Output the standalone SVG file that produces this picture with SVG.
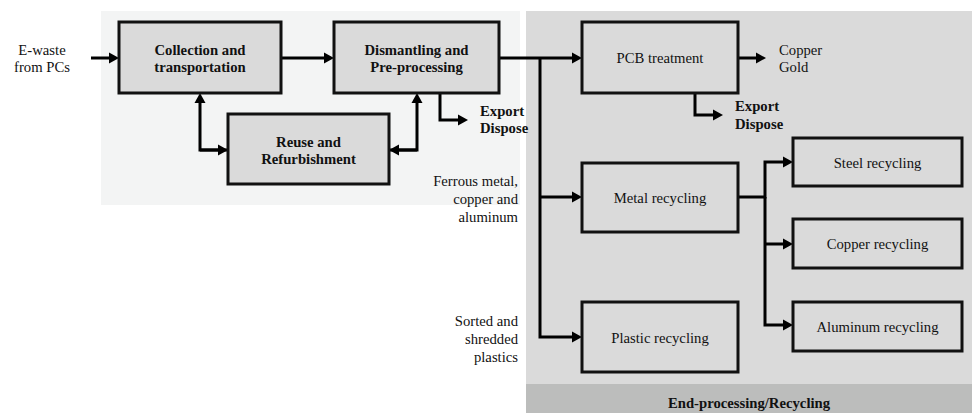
<svg xmlns="http://www.w3.org/2000/svg" width="972" height="413" viewBox="0 0 972 413">
  <style>
    text { font-family: "Liberation Serif", "Times New Roman", serif; font-size: 14.7px; fill: #111; }
    .b { font-weight: bold; }
    .c { text-anchor: middle; }
    .r { text-anchor: end; }
    .box { stroke: #111; stroke-width: 3; }
    .pre { fill: #dadada; }
    .end { fill: #dadada; }
    .wire { fill: none; stroke: #000; stroke-width: 3; }
  </style>
  <defs>
    <marker id="ah" markerUnits="userSpaceOnUse" markerWidth="11" markerHeight="12" refX="1" refY="6" orient="auto">
      <path d="M0,0.5 L10,6 L0,11.5 z" fill="#000"/>
    </marker>
  </defs>

  <!-- background panels -->
  <rect x="101" y="11" width="419" height="194" fill="#f3f4f4"/>
  <rect x="526" y="11" width="446" height="373" fill="#dadada"/>
  <rect x="526" y="384" width="446" height="29" fill="#bcbdbc"/>
  <text class="b c" x="749" y="408">End-processing/Recycling</text>

  <!-- input and side labels -->
  <text class="c" x="42" y="55">E-waste</text>
  <text class="c" x="42" y="72">from PCs</text>
  <text class="b" x="480" y="116">Export</text>
  <text class="b" x="480" y="133">Dispose</text>
  <text x="779" y="55">Copper</text>
  <text x="779" y="72">Gold</text>
  <text class="b" x="735" y="111">Export</text>
  <text class="b" x="735" y="129">Dispose</text>
  <text class="r" x="518" y="186">Ferrous metal,</text>
  <text class="r" x="518" y="204">copper and</text>
  <text class="r" x="518" y="222">aluminum</text>
  <text class="r" x="518" y="326">Sorted and</text>
  <text class="r" x="518" y="344">shredded</text>
  <text class="r" x="518" y="362">plastics</text>

  <!-- connectors -->
  <g id="connectors">
    <path class="wire" d="M91,58 H110" marker-end="url(#ah)"/>
    <path class="wire" d="M281,58 H325" marker-end="url(#ah)"/>
    <path class="wire" d="M228,150 H200 V102" marker-end="url(#ah)"/>
    <path class="wire" d="M200,150 H219" marker-end="url(#ah)"/>
    <path class="wire" d="M389,150 H417 V102" marker-end="url(#ah)"/>
    <path class="wire" d="M417,150 H398" marker-end="url(#ah)"/>
    <path class="wire" d="M440,93 V120 H459" marker-end="url(#ah)"/>
    <path class="wire" d="M499,58 H573" marker-end="url(#ah)"/>
    <path class="wire" d="M540,58 V337 H573" marker-end="url(#ah)"/>
    <path class="wire" d="M540,197 H573" marker-end="url(#ah)"/>
    <path class="wire" d="M738,58 H757" marker-end="url(#ah)"/>
    <path class="wire" d="M695,93 V115 H714" marker-end="url(#ah)"/>
    <path class="wire" d="M738,197 H765 V162 H784" marker-end="url(#ah)"/>
    <path class="wire" d="M765,197 V325 H784" marker-end="url(#ah)"/>
    <path class="wire" d="M765,244 H784" marker-end="url(#ah)"/>
  </g>

  <!-- pre-processing nodes -->
  <g id="collection">
    <rect class="box pre" x="119" y="22" width="162" height="71"/>
    <text class="b c" x="200" y="55">Collection and</text>
    <text class="b c" x="200" y="72">transportation</text>
  </g>
  <g id="dismantling">
    <rect class="box pre" x="334" y="22" width="165" height="71"/>
    <text class="b c" x="416.5" y="55">Dismantling and</text>
    <text class="b c" x="416.5" y="72">Pre-processing</text>
  </g>
  <g id="reuse">
    <rect class="box pre" x="228" y="114" width="161" height="70"/>
    <text class="b c" x="308.5" y="147">Reuse and</text>
    <text class="b c" x="308.5" y="164">Refurbishment</text>
  </g>

  <!-- end-processing nodes -->
  <g id="pcb">
    <rect class="box end" x="582" y="22" width="156" height="71"/>
    <text class="c" x="660" y="63">PCB treatment</text>
  </g>
  <g id="metal">
    <rect class="box end" x="582" y="163" width="156" height="69"/>
    <text class="c" x="660" y="203">Metal recycling</text>
  </g>
  <g id="plastic">
    <rect class="box end" x="582" y="302" width="156" height="70"/>
    <text class="c" x="660" y="343">Plastic recycling</text>
  </g>
  <g id="steel">
    <rect class="box end" x="793" y="138" width="169" height="48"/>
    <text class="c" x="877.5" y="168">Steel recycling</text>
  </g>
  <g id="copper">
    <rect class="box end" x="793" y="219" width="169" height="49"/>
    <text class="c" x="877.5" y="249">Copper recycling</text>
  </g>
  <g id="aluminum">
    <rect class="box end" x="793" y="302" width="169" height="49"/>
    <text class="c" x="877.5" y="332">Aluminum recycling</text>
  </g>
</svg>
